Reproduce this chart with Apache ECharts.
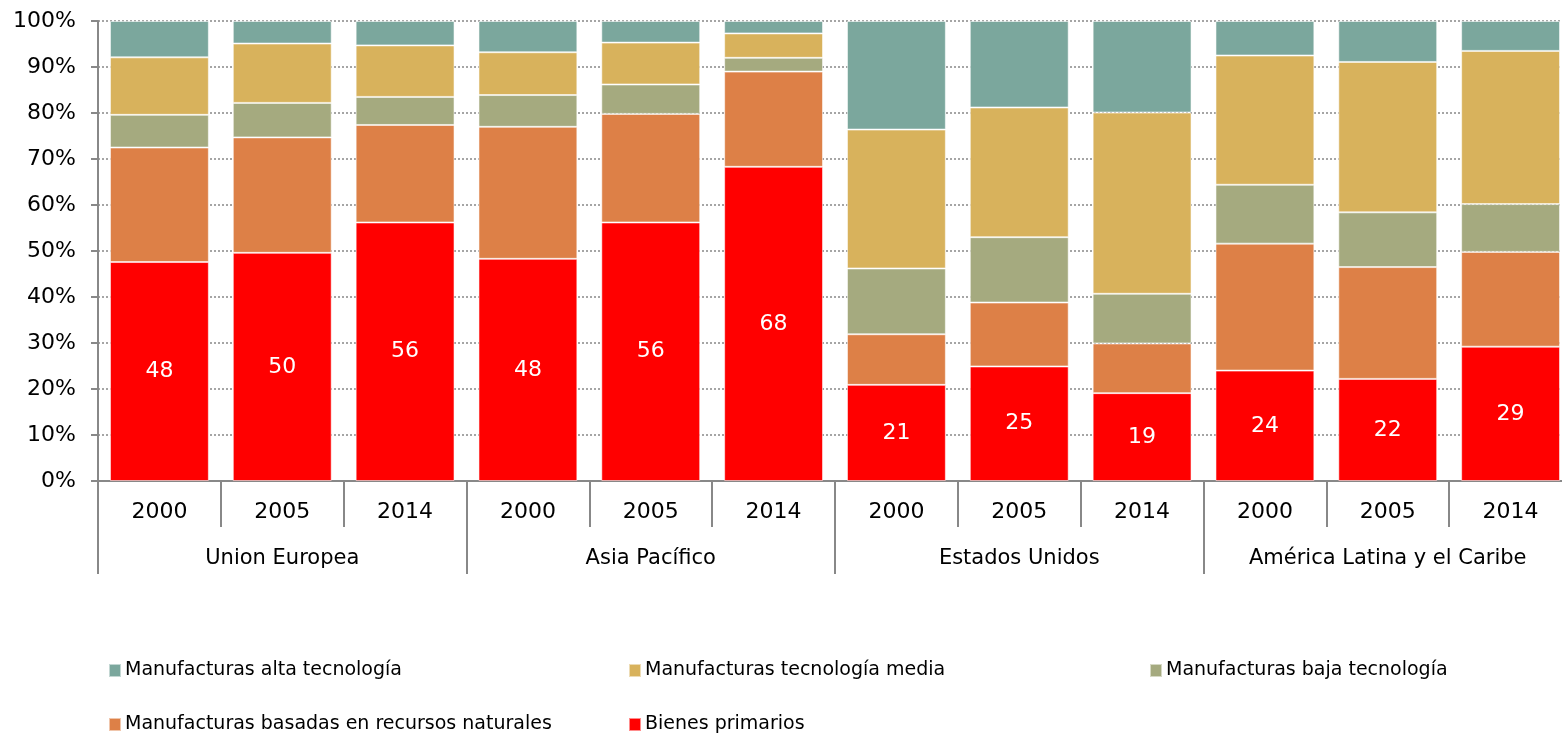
<!DOCTYPE html>
<html>
<head>
<meta charset="utf-8">
<script src="https://cdn.jsdelivr.net/npm/echarts@6/dist/echarts.min.js"></script>
<style>
    html, body { margin: 0; padding: 0; background: #fff; }
    #chart { width: 1562px; height: 734px; }
</style>
</head>
<body>
<div id="chart"></div>
<script>
// categorías (años) y grupos de regiones
const years = ["2000", "2005", "2014", "2000", "2005", "2014", "2000", "2005", "2014", "2000", "2005", "2014"];
const regions = ["Union Europea", "Asia Pacífico", "Estados Unidos", "América Latina y el Caribe"];
const yTicks = [0, 10, 20, 30, 40, 50, 60, 70, 80, 90, 100];

// participación (%) por tipo de producto
const bienesPrimarios = [47.6, 49.6, 56.2, 48.3, 56.2, 68.3, 20.9, 24.9, 19.1, 24.0, 22.2, 29.2];
const recursosNaturales = [24.9, 25.1, 21.2, 28.7, 23.6, 20.7, 11.0, 13.9, 10.8, 27.6, 24.3, 20.6];
const bajaTecnologia = [7.1, 7.5, 6.1, 6.9, 6.4, 3.0, 14.3, 14.2, 10.8, 12.8, 11.9, 10.4];
const tecnologiaMedia = [12.5, 12.9, 11.2, 9.3, 9.1, 5.3, 30.2, 28.2, 39.4, 28.1, 32.7, 33.3];
const altaTecnologia = [7.9, 4.9, 5.3, 6.8, 4.7, 2.7, 23.6, 18.8, 19.9, 7.5, 8.9, 6.5];

const seriesNames = [
    "Manufacturas alta tecnología",
    "Manufacturas tecnología media",
    "Manufacturas baja tecnología",
    "Manufacturas basadas en recursos naturales",
    "Bienes primarios"
];
const colors = {
    "Manufacturas alta tecnología": "#7ba79d",
    "Manufacturas tecnología media": "#d8b25c",
    "Manufacturas baja tecnología": "#a5aa7f",
    "Manufacturas basadas en recursos naturales": "#dd8047",
    "Bienes primarios": "#ff0000"
};

const font = "DejaVu Sans";

function barSeries(name, data, withLabel) {
    return {
        name: name,
        type: 'bar',
        stack: 'total',
        barCategoryGap: '19.5%',
        data: data,
        itemStyle: {
            color: colors[name],
            borderColor: 'rgba(255,255,255,0.55)',
            borderWidth: 1
        },
        label: {
            show: withLabel,
            position: 'inside',
            color: '#fff',
            fontFamily: font,
            fontSize: 22,
            formatter: function (p) { return Math.round(p.value); }
        }
    };
}

// leyenda en columnas fijas, como en el original
const legendPos = [
    [108, 661], [628, 661], [1149, 661],
    [108, 715], [628, 715]
];
const legends = seriesNames.map(function (name, i) {
    return {
        data: [name],
        left: legendPos[i][0],
        top: legendPos[i][1],
        padding: 0,
        icon: 'rect',
        itemWidth: 12,
        itemHeight: 13,
        itemGap: 4,
        textStyle: { fontFamily: font, fontSize: 19, color: '#000', padding: [0, 0, 0, -1] }
    };
});

const myChart = echarts.init(document.getElementById('chart'));
myChart.setOption({
    animation: false,
    legend: legends,
    // el área de trazado sobrepasa el borde derecho, como en el original
    grid: { left: 98, width: 1474, top: 21, height: 460, containLabel: false, outerBoundsMode: 'none' },
    xAxis: [
        {
            type: 'category',
            data: years,
            position: 'bottom',
            axisLine: { lineStyle: { color: '#888', width: 2 } },
            axisTick: { show: true, interval: 0, length: 46, lineStyle: { color: '#888', width: 2 } },
            axisLabel: { interval: 0, margin: 20, color: '#000', fontFamily: font, fontSize: 22 }
        },
        {
            type: 'category',
            data: regions,
            position: 'bottom',
            offset: 0,
            axisLine: { show: false },
            axisTick: { show: true, interval: 0, length: 93, lineStyle: { color: '#888', width: 2 } },
            axisLabel: { interval: 0, margin: 67, color: '#000', fontFamily: font, fontSize: 21 }
        }
    ],
    yAxis: {
        type: 'value',
        min: yTicks[0],
        max: yTicks[yTicks.length - 1],
        interval: 10,
        axisLine: { show: true, lineStyle: { color: '#888', width: 2 } },
        axisTick: { show: true, length: 7, lineStyle: { color: '#888', width: 2 } },
        axisLabel: { margin: 22, color: '#000', fontFamily: font, fontSize: 22, formatter: '{value}%' },
        splitLine: { show: true, lineStyle: { color: '#888', type: [2, 2], width: 1.5 } }
    },
    series: [
        barSeries("Bienes primarios", bienesPrimarios, true),
        barSeries("Manufacturas basadas en recursos naturales", recursosNaturales, false),
        barSeries("Manufacturas baja tecnología", bajaTecnologia, false),
        barSeries("Manufacturas tecnología media", tecnologiaMedia, false),
        barSeries("Manufacturas alta tecnología", altaTecnologia, false)
    ]
});
</script>
</body>
</html>
